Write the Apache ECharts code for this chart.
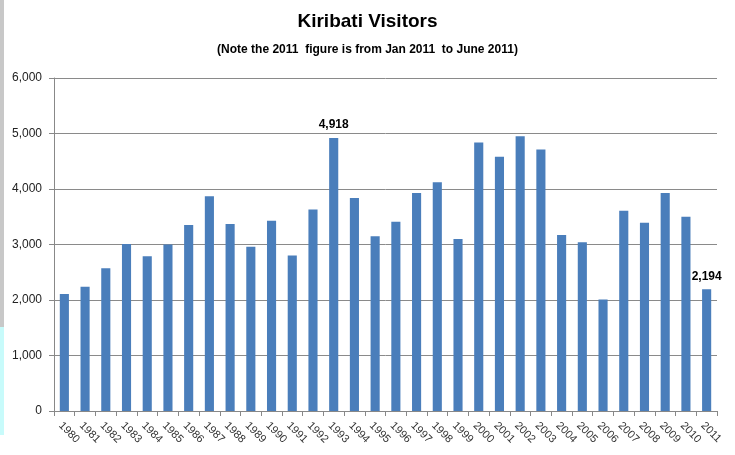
<!DOCTYPE html>
<html>
<head>
<meta charset="utf-8">
<script src="https://cdn.jsdelivr.net/npm/echarts@6/dist/echarts.min.js"></script>
<style>
html,body{margin:0;padding:0;background:#fff;}
#c{width:735px;height:455px;}
</style>
</head>
<body>
<div id="c"></div>
<script>
const years = ['1980','1981','1982','1983','1984','1985','1986','1987','1988','1989','1990','1991','1992','1993','1994','1995','1996','1997','1998','1999','2000','2001','2002','2003','2004','2005','2006','2007','2008','2009','2010','2011'];
const visitors = [2110,2240,2570,3010,2790,3000,3350,3870,3370,2960,3430,2800,3630,4918,3840,3150,3410,3930,4120,3100,4840,4580,4950,4710,3170,3040,2010,3610,3390,3930,3500,2194];
const labelledYears = ['1993','2011'];
const yTicks = [0,1000,2000,3000,4000,5000,6000];

const FONT = '"Liberation Sans","Open Sans",sans-serif';
const fmt = v => Number(v).toLocaleString('en-US');

const chart = echarts.init(document.getElementById('c'), null, {renderer:'canvas'});
chart.setOption({
  animation:false,
  backgroundColor:'#fff',
  textStyle:{fontFamily:FONT},
  title:[
    {text:'Kiribati Visitors', left:'center', top:7,
     textStyle:{fontFamily:FONT, fontSize:19, fontWeight:'bold', color:'#000'}},
    {text:'(Note the 2011  figure is from Jan 2011  to June 2011)', left:'center', top:39,
     textStyle:{fontFamily:FONT, fontSize:12, fontWeight:'bold', color:'#000'}}
  ],
  grid:{left:54, right:18, top:78, bottom:44, containLabel:false},
  xAxis:{
    type:'category', data:years, boundaryGap:true,
    axisLine:{show:true, lineStyle:{color:'#888', width:1}},
    axisTick:{show:true, length:5, lineStyle:{color:'#888'}},
    axisLabel:{interval:0, rotate:-45, fontSize:11, color:'#333', margin:9, verticalAlign:'top', fontFamily:FONT}
  },
  yAxis:{
    type:'value', min:yTicks[0], max:yTicks[yTicks.length-1], interval:1000,
    axisLine:{show:true, lineStyle:{color:'#888', width:1}},
    axisTick:{show:true, length:5, inside:false, lineStyle:{color:'#888'}},
    splitLine:{show:true, lineStyle:{color:'#8a8a8a', width:1}},
    axisLabel:{formatter:fmt, fontSize:12, color:'#222', margin:12, fontFamily:FONT}
  },
  series:[{
    type:'bar',
    data:visitors.map((v,i)=>({
      value:v,
      label:{show:labelledYears.includes(years[i])}
    })),
    barWidth:'44%',
    itemStyle:{color:'#4a7ebb'},
    label:{position:'top', distance:7, formatter:p=>fmt(p.value), fontSize:12, fontWeight:'bold', color:'#000', fontFamily:FONT}
  }],
  graphic:[
    {type:'rect', shape:{x:0,y:0,width:4,height:327}, style:{fill:'#c8c8c8'}, silent:true},
    {type:'rect', shape:{x:0,y:327,width:4,height:108}, style:{fill:'#c8fbfb'}, silent:true}
  ]
});
</script>
</body>
</html>
